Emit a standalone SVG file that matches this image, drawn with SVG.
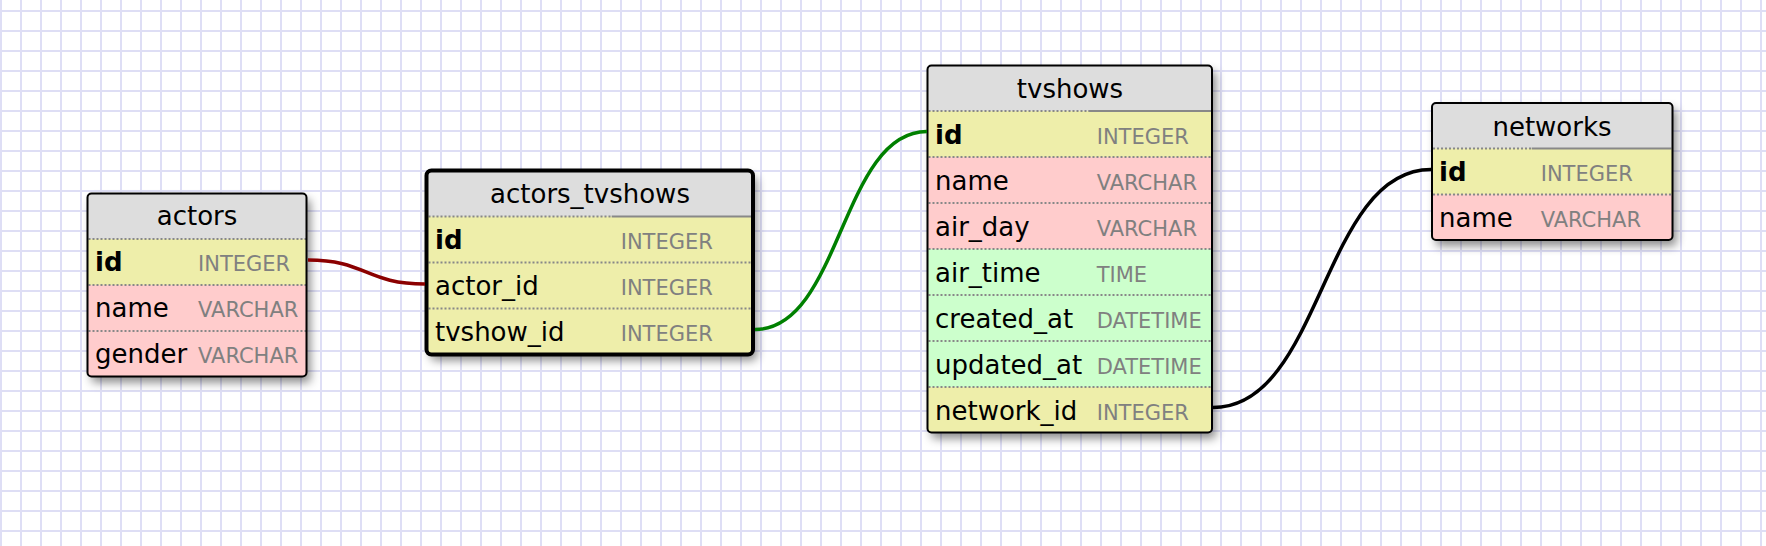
<svg xmlns="http://www.w3.org/2000/svg" width="1766" height="546" viewBox="0 0 1766 546">
<defs>
<pattern id="grid" width="20" height="20" patternUnits="userSpaceOnUse">
<rect width="20" height="20" fill="#ffffff"/>
<rect x="0" y="0" width="2" height="20" fill="#dedef5"/>
<rect x="0" y="10" width="20" height="2" fill="#dedef5"/>
</pattern>
<filter id="shadow" x="-20%" y="-20%" width="150%" height="150%">
<feDropShadow dx="4" dy="6" stdDeviation="5" flood-color="#000" flood-opacity="0.45"/>
</filter>
<clipPath id="c-actors"><rect x="87.5" y="193.5" width="219" height="183" rx="4"/></clipPath>
<clipPath id="c-at"><rect x="426.5" y="170.5" width="326.5" height="184" rx="5"/></clipPath>
<clipPath id="c-tv"><rect x="927.5" y="65.5" width="284.5" height="367" rx="4"/></clipPath>
<clipPath id="c-nw"><rect x="1432" y="103" width="240.5" height="137" rx="4"/></clipPath>
</defs>
<style>
.hd{fill:#dddddd}
.pk{fill:#eeeeaa}
.vc{fill:#ffcccc}
.tm{fill:#ccffcc}
.dot{stroke:#888888;stroke-width:2;stroke-dasharray:2 2;fill:none}
.sol{stroke:#888888;stroke-width:2;fill:none}
.title{font-family:'DejaVu Sans',Verdana,sans-serif;font-size:26px;text-anchor:middle;fill:#000000}
.fn{font-family:'DejaVu Sans',Verdana,sans-serif;font-size:26px;fill:#000000}
.b{font-weight:bold}
.ty{font-family:'DejaVu Sans',Verdana,sans-serif;font-size:21px;fill:#808080}
.box{fill:none;stroke:#000000;stroke-width:2}
.sel{stroke-width:4}
.rel{fill:none;stroke-width:3.5}
</style>
<rect width="1766" height="546" fill="url(#grid)"/>

<g id="actors">
<rect x="87.5" y="193.5" width="219" height="183" rx="4" class="hd" filter="url(#shadow)"/>
<g clip-path="url(#c-actors)">
<rect x="87" y="239" width="220" height="46" class="pk"/>
<rect x="87" y="285" width="220" height="46" class="vc"/>
<rect x="87" y="331" width="220" height="46" class="vc"/>
</g>
<line x1="88.5" y1="239" x2="306" y2="239" class="dot"/>
<line x1="88.5" y1="285" x2="306" y2="285" class="dot"/>
<line x1="88.5" y1="331" x2="306" y2="331" class="dot"/>
<rect x="87.5" y="193.5" width="219" height="183" rx="4" class="box"/>
<text x="197" y="225" class="title">actors</text>
<text x="95" y="271" class="fn b">id</text>
<text x="198" y="271" class="ty">INTEGER</text>
<text x="95" y="317" class="fn">name</text>
<text x="198" y="317" class="ty">VARCHAR</text>
<text x="95" y="363" class="fn">gender</text>
<text x="198" y="363" class="ty">VARCHAR</text>
</g>

<g id="actors_tvshows">
<rect x="426.5" y="170.5" width="326.5" height="184" rx="5" class="hd" filter="url(#shadow)"/>
<g clip-path="url(#c-at)">
<rect x="426" y="216.5" width="328" height="139" class="pk"/>
</g>
<line x1="428.5" y1="216.5" x2="611.7" y2="216.5" class="dot"/>
<line x1="611.7" y1="216.5" x2="751" y2="216.5" class="sol"/>
<line x1="428.5" y1="262.5" x2="751" y2="262.5" class="dot"/>
<line x1="428.5" y1="308.5" x2="751" y2="308.5" class="dot"/>
<rect x="426.5" y="170.5" width="326.5" height="184" rx="5" class="box sel"/>
<text x="590" y="203" class="title">actors_tvshows</text>
<text x="435" y="249" class="fn b">id</text>
<text x="620.7" y="249" class="ty">INTEGER</text>
<text x="435" y="295" class="fn">actor_id</text>
<text x="620.7" y="295" class="ty">INTEGER</text>
<text x="435" y="341" class="fn">tvshow_id</text>
<text x="620.7" y="341" class="ty">INTEGER</text>
</g>

<g id="tvshows">
<rect x="927.5" y="65.5" width="284.5" height="367" rx="4" class="hd" filter="url(#shadow)"/>
<g clip-path="url(#c-tv)">
<rect x="927" y="111" width="286" height="46" class="pk"/>
<rect x="927" y="157" width="286" height="46" class="vc"/>
<rect x="927" y="203" width="286" height="46" class="vc"/>
<rect x="927" y="249" width="286" height="46" class="tm"/>
<rect x="927" y="295" width="286" height="46" class="tm"/>
<rect x="927" y="341" width="286" height="46" class="tm"/>
<rect x="927" y="387" width="286" height="47" class="pk"/>
</g>
<line x1="928.5" y1="111" x2="1088.3" y2="111" class="dot"/>
<line x1="1088.3" y1="111" x2="1211" y2="111" class="sol"/>
<line x1="928.5" y1="157" x2="1211" y2="157" class="dot"/>
<line x1="928.5" y1="203" x2="1211" y2="203" class="dot"/>
<line x1="928.5" y1="249" x2="1211" y2="249" class="dot"/>
<line x1="928.5" y1="295" x2="1211" y2="295" class="dot"/>
<line x1="928.5" y1="341" x2="1211" y2="341" class="dot"/>
<line x1="928.5" y1="387" x2="1211" y2="387" class="dot"/>
<rect x="927.5" y="65.5" width="284.5" height="367" rx="4" class="box"/>
<text x="1070" y="97.5" class="title">tvshows</text>
<text x="935" y="143.5" class="fn b">id</text>
<text x="1096.7" y="143.5" class="ty">INTEGER</text>
<text x="935" y="189.5" class="fn">name</text>
<text x="1096.7" y="189.5" class="ty">VARCHAR</text>
<text x="935" y="235.5" class="fn">air_day</text>
<text x="1096.7" y="235.5" class="ty">VARCHAR</text>
<text x="935" y="281.5" class="fn">air_time</text>
<text x="1096.7" y="281.5" class="ty">TIME</text>
<text x="935" y="327.5" class="fn">created_at</text>
<text x="1096.7" y="327.5" class="ty">DATETIME</text>
<text x="935" y="373.5" class="fn">updated_at</text>
<text x="1096.7" y="373.5" class="ty">DATETIME</text>
<text x="935" y="419.5" class="fn">network_id</text>
<text x="1096.7" y="419.5" class="ty">INTEGER</text>
</g>

<g id="networks">
<rect x="1432" y="103" width="240.5" height="137" rx="4" class="hd" filter="url(#shadow)"/>
<g clip-path="url(#c-nw)">
<rect x="1431" y="148.5" width="243" height="46" class="pk"/>
<rect x="1431" y="194.5" width="243" height="47" class="vc"/>
</g>
<line x1="1433" y1="148.5" x2="1531.7" y2="148.5" class="dot"/>
<line x1="1531.7" y1="148.5" x2="1671.5" y2="148.5" class="sol"/>
<line x1="1433" y1="194.5" x2="1671.5" y2="194.5" class="dot"/>
<rect x="1432" y="103" width="240.5" height="137" rx="4" class="box"/>
<text x="1552" y="135.5" class="title">networks</text>
<text x="1439" y="181" class="fn b">id</text>
<text x="1540.7" y="181" class="ty">INTEGER</text>
<text x="1439" y="227" class="fn">name</text>
<text x="1540.7" y="227" class="ty">VARCHAR</text>
</g>

<g id="connectors">
<path d="M 308 260 C 366 260, 366 284, 425 284" class="rel" stroke="#8b0000"/>
<path d="M 755 329.5 C 841 329.5, 841 131.5, 927 131.5" class="rel" stroke="#008000"/>
<path d="M 1213 407.5 C 1322 407.5, 1322 169.5, 1431 169.5" class="rel" stroke="#000000"/>
</g>
</svg>
